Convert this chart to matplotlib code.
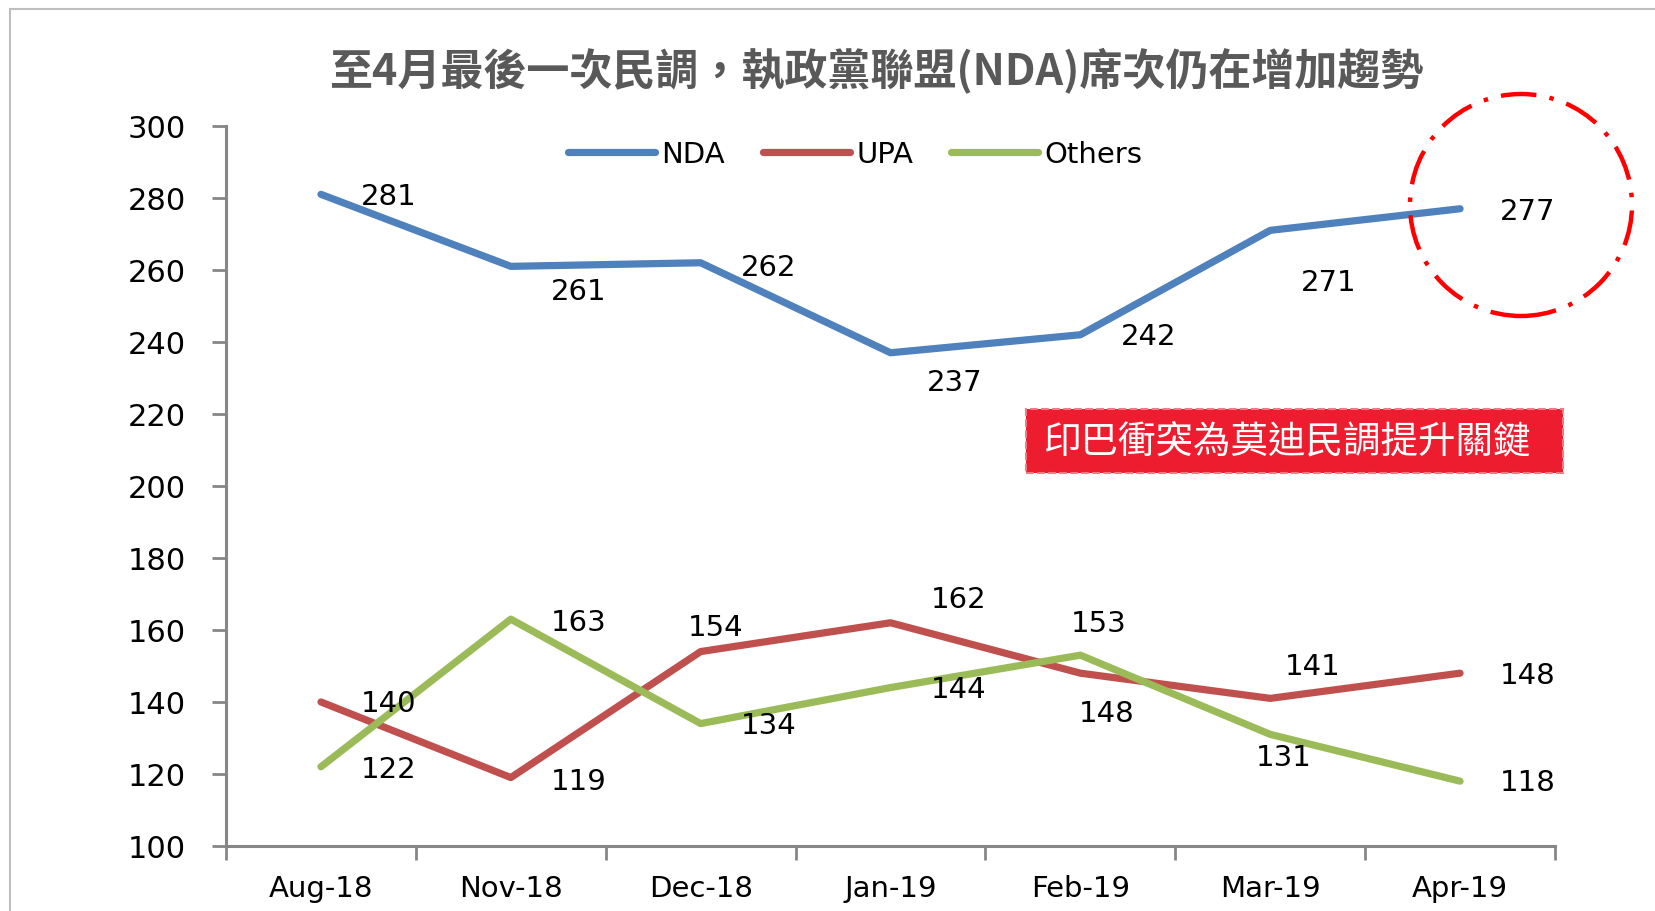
import matplotlib
matplotlib.use("Agg")
import matplotlib.pyplot as plt
from matplotlib.patches import Ellipse, Rectangle

plt.rcParams['font.family'] = ['DejaVu Sans', 'Noto Sans CJK TC']

# data
months = ["Aug-18", "Nov-18", "Dec-18", "Jan-19", "Feb-19", "Mar-19", "Apr-19"]
nda = [281, 261, 262, 237, 242, 271, 277]
upa = [140, 119, 154, 162, 148, 141, 148]
others = [122, 163, 134, 144, 153, 131, 118]

# label offsets in pixels (dx, dy), dy positive = up
nda_off = [(68, -2), (68, -25), (68, -4), (64, -29), (68, -1), (58, -52), (68, -2)]
upa_off = [(68, -1), (68, -3), (15, 25), (68, 24), (26, -40), (42, 32), (68, -2)]
oth_off = [(68, -2), (68, -3), (68, -1), (68, -1), (18, 32), (14, -23), (68, -1)]

fig = plt.figure(figsize=(16.56, 9.12), dpi=100)
ax = fig.add_axes([0.1365, 0.0713, 0.8025, 0.7895])

x = range(len(months))
ax.plot(x, nda, color="#4F81BD", lw=5.2, label="NDA", solid_capstyle="round")
ax.plot(x, upa, color="#C0504D", lw=5.2, label="UPA", solid_capstyle="round")
ax.plot(x, others, color="#9BBB59", lw=5.2, label="Others", solid_capstyle="round")

for vals, offs in [(nda, nda_off), (upa, upa_off), (others, oth_off)]:
    for i, (v, o) in enumerate(zip(vals, offs)):
        ax.annotate(str(v), (i, v), xytext=o, textcoords="offset pixels",
                    ha="center", va="center", fontsize=21, color="black")

ax.set_xlim(-0.5, 6.5)
ax.set_ylim(100, 300)
ax.set_yticks(range(100, 301, 20))
ax.set_xticks([i - 0.5 for i in range(8)], minor=False)
ax.set_xticklabels([])
ax.set_xticks(list(x), minor=True)
ax.set_xticklabels(months, minor=True, fontsize=21)
ax.tick_params(axis="x", which="minor", length=0, pad=20)
ax.tick_params(axis="x", which="major", length=10, width=2, color="#868686", direction="out")
ax.tick_params(axis="y", length=10, width=2, color="#868686", pad=19, labelsize=22)

for s in ["top", "right"]:
    ax.spines[s].set_visible(False)
for s in ["left", "bottom"]:
    ax.spines[s].set_color("#868686")
    ax.spines[s].set_linewidth(2.2)

fig.legend(loc="center", bbox_to_anchor=(855 / 1656, 1 - 155 / 912), ncol=3,
           frameon=False, fontsize=21, handlelength=3.0, handletextpad=0.2,
           columnspacing=1.3)

fig.text(876 / 1656, 1 - 70 / 912, "至4月最後一次民調，執政黨聯盟(NDA)席次仍在增加趨勢",
         ha="center", va="center", fontsize=31, fontweight="bold", color="#595959",
         family=["Noto Sans CJK TC", "DejaVu Sans"])

# red callout box
fig.patches.append(Rectangle((1026 / 1656, 1 - 474 / 912), 537 / 1656, 64 / 912,
                             transform=fig.transFigure, facecolor="#ED1C2E",
                             edgecolor="#F27A84", lw=1.5, ls="--"))
fig.text(1288 / 1656, 1 - 442 / 912, "印巴衝突為莫迪民調提升關鍵", ha="center", va="center",
         fontsize=27, color="white", family=["Noto Sans CJK TC", "DejaVu Sans"])

# dash-dot circle around last NDA value
fig.patches.append(Ellipse((1521 / 1656, 1 - 206 / 912), 222 / 1656, 222 / 912,
                           transform=fig.transFigure, fill=False, edgecolor="#FF0000",
                           lw=3.2, ls=(0, (8, 3, 1, 3))))

# outer frame
fig.patches.append(Rectangle((10 / 1656, -0.1), 1.2, 1 - 10 / 912 + 0.1,
                             transform=fig.transFigure, fill=False,
                             edgecolor="#BFBFBF", lw=1.5))

fig.savefig("out.png", dpi=100)
